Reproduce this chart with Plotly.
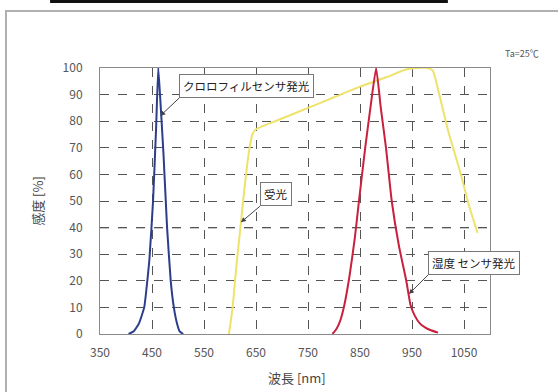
import plotly.graph_objects as go

# --- data ---
blue_nm = [405, 415, 425, 435, 445, 452, 458, 462, 466, 472, 479, 486, 492, 498, 503, 510]
blue_val = [0, 1, 4, 10, 28, 50, 78, 100, 88, 68, 40, 20, 10, 4, 1, 0]

yellow_nm = [598, 605, 612, 620, 628, 636, 643, 650, 700, 750, 800, 850, 900, 940, 960, 980, 990, 1000, 1020, 1044, 1060, 1076]
yellow_val = [0, 10, 25, 40, 55, 68, 75, 77, 81, 85, 89, 93, 96.5, 99.5, 100, 100, 99, 92, 76, 60, 48, 38]

red_nm = [797, 805, 812, 820, 830, 840, 848, 860, 870, 881, 890, 900, 911, 925, 939, 947, 955, 965, 975, 985, 1000]
red_val = [0, 2, 5, 11, 22, 36, 50, 70, 85, 100, 85, 70, 50, 33, 20, 11, 7, 4, 2.5, 1.5, 0.5]

x_ticks = [350, 450, 550, 650, 750, 850, 950, 1050]
y_ticks = [0, 10, 20, 30, 40, 50, 60, 70, 80, 90, 100]

label_chl = "クロロフィルセンサ発光"
label_recv = "受光"
label_hum = "湿度 センサ発光"
x_title = "波長 [nm]"
y_title = "感度 [%]"
temp_note = "Ta=25℃"

FONT = "Noto Sans CJK JP"

fig = go.Figure()
fig.add_trace(go.Scatter(x=blue_nm, y=blue_val, mode="lines",
                         line=dict(color="#2c3d8c", width=2, shape="spline", smoothing=0.4),
                         showlegend=False, hoverinfo="skip"))
fig.add_trace(go.Scatter(x=yellow_nm, y=yellow_val, mode="lines",
                         line=dict(color="#efe26a", width=2, shape="spline", smoothing=0.5),
                         showlegend=False, hoverinfo="skip"))
fig.add_trace(go.Scatter(x=red_nm, y=red_val, mode="lines",
                         line=dict(color="#c8203f", width=2, shape="spline", smoothing=0.4),
                         showlegend=False, hoverinfo="skip"))

axis_common = dict(
    showline=True, mirror=True, linecolor="#8a8a8a", linewidth=1,
    showgrid=True, gridcolor="#555555", gridwidth=1, griddash="dash",
    zeroline=False, ticks="",
    tickfont=dict(family=FONT, size=12, color="#555555"),
)

fig.update_xaxes(range=[350, 1100], tickvals=x_ticks, ticklabelstandoff=8, **axis_common)
fig.update_yaxes(range=[0, 100], tickvals=y_ticks, ticklabelstandoff=14, **axis_common)

ann_style = dict(showarrow=True, arrowhead=2, arrowsize=1, arrowwidth=1, arrowcolor="#444444",
                 bordercolor="#777777", borderwidth=1, borderpad=3, bgcolor="white",
                 font=dict(family=FONT, size=11.5, color="#222222"),
                 xanchor="left", yanchor="bottom", axref="pixel", ayref="pixel")

annotations = [
    dict(x=466, y=82, text=label_chl, ax=19, ay=-18, **ann_style),
    dict(x=621, y=42, text=label_recv, ax=19, ay=-16, **ann_style),
    dict(x=944, y=15, text=label_hum, ax=19, ay=-19, **ann_style),
    dict(xref="paper", yref="paper", x=0.505, y=-0.165, text=x_title, showarrow=False,
         xanchor="center", yanchor="middle", font=dict(family=FONT, size=13, color="#444444")),
    dict(xref="paper", yref="paper", x=-0.162, y=0.5, text=y_title, showarrow=False, textangle=-90,
         xanchor="center", yanchor="middle", font=dict(family=FONT, size=13, color="#444444")),
    dict(xref="paper", yref="paper", x=1.082, y=1.056, text=temp_note, showarrow=False,
         xanchor="center", yanchor="middle", font=dict(family=FONT, size=9, color="#555555")),
]

shapes = [
    # outer gray frame
    dict(type="rect", xref="paper", yref="paper", x0=-0.241, x1=1.25, y0=-0.3, y1=1.214,
         line=dict(color="#b0b0b0", width=2), fillcolor="rgba(0,0,0,0)", layer="below"),
    # black line at the very top
    dict(type="line", xref="paper", yref="paper", x0=-0.128, x1=0.892, y0=1.25, y1=1.25,
         line=dict(color="#111111", width=3)),
    # darker 40% grid line
    dict(type="line", xref="paper", yref="y", x0=0, x1=1, y0=40, y1=40,
         line=dict(color="#222222", width=1.2, dash="dash"), layer="below"),
]

fig.update_layout(
    width=558, height=392,
    margin=dict(l=100, r=68, t=68, b=58),
    paper_bgcolor="white", plot_bgcolor="white",
    annotations=annotations, shapes=shapes,
    font=dict(family=FONT),
)

fig.write_html("out.html", config={"displayModeBar": False},
               post_script="document.body.style.margin='0px';")
